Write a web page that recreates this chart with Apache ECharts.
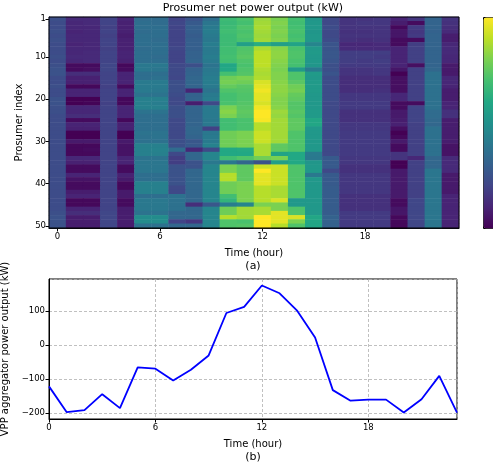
<!DOCTYPE html>
<html>
<head>
<meta charset="utf-8">
<script src="https://cdn.jsdelivr.net/npm/echarts@6/dist/echarts.min.js"></script>
<style>html,body{margin:0;padding:0;background:#fff;}#c{width:493px;height:468px;}</style>
</head>
<body>
<div id="c"></div>
<script>
const hours = [0,1,2,3,4,5,6,7,8,9,10,11,12,13,14,15,16,17,18,19,20,21,22,23];
const prosumers = [1,2,3,4,5,6,7,8,9,10,11,12,13,14,15,16,17,18,19,20,21,22,23,24,25,26,27,28,29,30,31,32,33,34,35,36,37,38,39,40,41,42,43,44,45,46,47,48,49,50];
const hourTicks = [0,6,12,18];
const prosumerTicks = [1,10,20,30,40,50];
const vppOutput = [-122,-198,-192,-145,-186,-66,-70,-105,-73,-31,94,112,175,152,100,22,-133,-164,-161,-161,-199,-160,-91,-199];
const netPower = [
[-2.6,-3.8,-3.8,-3.0,-4.0,-1.5,-1.5,-3.0,-2.4,-1.4,1.8,2.1,3.5,3.0,2.0,0.2,-2.8,-3.5,-3.5,-3.4,-4.0,-3.4,-1.8,-3.5],
[-2.7,-3.9,-3.8,-3.0,-4.1,-1.4,-1.5,-2.9,-2.2,-1.1,1.7,2.0,3.6,3.1,1.9,0.3,-2.8,-3.5,-3.4,-3.4,-4.2,-4.7,-1.8,-3.6],
[-2.7,-3.9,-3.9,-3.1,-4.1,-1.4,-1.4,-3.0,-2.0,-0.9,1.8,2.2,3.7,3.0,2.0,0.3,-2.7,-3.5,-3.5,-3.5,-4.8,-3.3,-1.8,-3.7],
[-2.6,-4.0,-3.9,-3.0,-4.1,-1.5,-1.4,-3.0,-2.0,-0.8,1.9,2.1,3.6,3.1,2.1,0.2,-2.8,-3.6,-3.6,-3.5,-4.4,-3.4,-1.9,-3.8],
[-2.7,-3.9,-3.9,-3.1,-4.2,-1.4,-1.4,-3.0,-2.1,-0.9,1.8,2.2,3.5,3.0,2.0,0.3,-2.8,-3.5,-3.5,-3.5,-4.4,-3.3,-1.8,-4.2],
[-2.6,-3.9,-3.9,-3.0,-4.1,-1.4,-1.5,-3.0,-2.0,-1.0,1.8,2.1,3.6,3.1,2.1,0.3,-2.7,-3.6,-3.7,-3.6,-4.7,-4.7,-1.8,-4.2],
[-2.7,-4.0,-3.9,-3.0,-4.1,-1.4,-1.4,-3.0,-2.0,-0.8,1.8,0.6,1.2,0.6,0.8,-0.5,-2.4,-3.9,-3.9,-3.8,-4.7,-3.2,-1.8,-3.9],
[-2.7,-3.9,-3.9,-3.1,-4.1,-1.5,-1.4,-2.9,-2.0,-0.9,1.9,2.2,3.7,3.2,2.1,0.3,-2.4,-3.8,-3.8,-3.8,-4.0,-3.1,-1.8,-3.8],
[-2.7,-3.9,-3.8,-3.0,-4.0,-1.4,-1.4,-3.0,-1.9,-0.9,1.9,2.3,4.0,3.3,2.2,0.4,-2.3,-3.2,-3.2,-3.2,-4.0,-3.1,-1.8,-3.8],
[-2.6,-3.8,-3.8,-3.0,-4.0,-1.4,-1.5,-3.0,-1.9,-0.8,2.0,2.4,4.0,3.3,2.2,0.3,-2.3,-3.2,-3.2,-3.3,-4.0,-3.1,-1.8,-3.9],
[-2.7,-3.9,-3.8,-3.0,-4.1,-1.4,-1.4,-3.0,-1.8,-0.9,1.9,2.2,4.0,3.2,2.1,0.3,-2.4,-3.2,-3.3,-3.2,-4.0,-3.1,-1.8,-3.9],
[-2.6,-4.7,-4.7,-2.9,-4.8,-1.0,-1.0,-2.8,-2.6,-1.2,0.9,2.1,4.0,3.1,2.0,0.2,-2.6,-3.3,-3.3,-3.3,-4.0,-4.6,-1.8,-4.3],
[-2.5,-4.7,-4.6,-2.9,-4.7,-1.0,-1.1,-2.8,-1.9,-1.0,1.0,2.2,3.8,3.0,0.4,-0.9,-2.6,-3.5,-3.5,-3.4,-4.4,-3.1,-1.7,-4.3],
[-2.5,-3.7,-3.7,-3.0,-4.0,-1.4,-1.4,-2.8,-1.8,-0.9,2.0,2.3,3.7,3.1,2.2,0.4,-2.4,-3.5,-3.5,-3.4,-5.0,-3.1,-1.3,-4.3],
[-2.7,-4.1,-4.1,-3.0,-4.0,-1.4,-1.3,-2.9,-1.7,-0.8,2.8,3.0,3.8,3.1,2.2,0.3,-2.7,-3.7,-3.7,-3.7,-4.6,-3.1,-1.3,-3.9],
[-2.7,-4.1,-4.1,-3.0,-4.0,-0.9,-0.9,-2.6,-1.7,-0.8,2.9,2.8,4.4,3.2,2.4,0.4,-2.7,-3.7,-3.7,-3.7,-4.6,-3.1,-1.3,-3.9],
[-2.6,-4.8,-4.8,-3.1,-4.7,-0.9,-0.9,-2.6,-1.8,-0.9,2.6,2.4,4.6,3.3,2.8,0.4,-2.7,-3.7,-3.7,-3.7,-4.6,-3.1,-1.3,-4.0],
[-2.7,-4.0,-4.0,-3.0,-4.0,-0.9,-1.0,-2.6,-4.0,-1.2,2.2,2.3,4.8,3.3,2.9,0.4,-2.7,-3.7,-3.7,-3.6,-4.6,-3.1,-1.3,-4.2],
[-2.7,-4.0,-4.0,-3.0,-4.0,-1.2,-1.2,-2.7,-1.9,-0.9,2.0,2.2,4.6,3.2,2.6,0.3,-2.7,-3.4,-3.4,-3.4,-3.9,-3.1,-1.3,-4.2],
[-2.5,-5.0,-5.0,-3.0,-4.8,-0.7,-0.7,-2.8,-1.8,-0.8,2.0,2.2,4.6,3.1,2.5,0.3,-2.7,-3.4,-3.4,-3.4,-3.9,-3.1,-1.3,-4.2],
[-2.5,-5.0,-4.9,-3.1,-4.8,-0.7,-0.8,-2.8,-4.2,-2.8,2.1,2.3,4.4,3.1,2.3,0.3,-2.8,-3.3,-3.3,-3.3,-4.7,-4.7,-1.3,-4.0],
[-2.6,-3.9,-3.9,-3.0,-4.0,-0.7,-0.7,-2.6,-1.8,-0.9,3.0,2.4,4.8,3.2,2.3,0.3,-2.8,-3.3,-3.3,-3.3,-4.7,-3.0,-1.3,-4.0],
[-2.6,-3.9,-3.9,-3.0,-4.0,-1.2,-1.2,-2.6,-1.8,-0.9,3.2,2.5,5.0,3.5,2.4,0.4,-2.8,-3.6,-3.6,-3.6,-4.3,-3.0,-1.5,-3.6],
[-2.7,-3.7,-3.7,-3.0,-4.0,-1.4,-1.4,-2.6,-1.8,-0.9,3.0,2.4,5.0,3.4,2.3,0.4,-2.8,-3.6,-3.6,-3.6,-4.3,-3.0,-1.5,-3.6],
[-2.7,-4.7,-4.7,-3.0,-4.8,-1.4,-1.4,-2.8,-1.8,-1.0,1.9,2.1,4.9,3.6,2.5,0.9,-2.8,-3.6,-3.6,-3.6,-4.2,-3.0,-1.6,-4.2],
[-2.7,-4.0,-4.0,-3.0,-4.1,-1.4,-1.4,-2.8,-1.8,-1.0,1.9,2.1,3.9,3.6,2.5,0.9,-2.8,-3.4,-3.4,-3.4,-4.1,-3.1,-1.7,-4.2],
[-2.7,-4.1,-4.1,-3.0,-4.1,-1.4,-1.4,-2.8,-1.7,-3.1,1.9,2.1,3.9,3.6,2.5,0.3,-2.8,-3.4,-3.4,-3.4,-4.6,-3.1,-1.3,-4.2],
[-2.7,-5.0,-5.0,-3.0,-5.0,-1.2,-1.2,-2.8,-1.7,-1.0,2.8,3.0,4.2,3.6,2.2,0.3,-2.8,-3.3,-3.3,-3.3,-5.0,-3.1,-1.3,-4.2],
[-2.7,-5.0,-5.0,-3.0,-5.0,-1.3,-1.2,-2.8,-1.8,-0.9,2.8,3.0,4.2,3.6,2.2,0.3,-2.8,-3.3,-3.3,-3.3,-4.8,-3.1,-1.3,-4.2],
[-2.7,-4.3,-4.3,-3.0,-4.3,-1.3,-1.3,-2.6,-2.3,-0.9,2.8,3.0,4.2,3.6,2.2,0.3,-2.8,-3.3,-3.3,-3.3,-4.3,-3.1,-1.3,-4.2],
[-2.7,-4.8,-4.8,-3.0,-4.5,-0.7,-0.7,-2.6,-2.2,-0.6,2.8,3.0,3.7,2.5,2.2,0.3,-2.8,-3.3,-3.3,-3.3,-4.7,-3.1,-1.3,-4.5],
[-2.7,-4.8,-4.7,-3.0,-4.5,-0.7,-0.6,-1.5,-3.9,-2.8,1.0,1.1,3.7,2.5,2.2,0.3,-2.8,-3.3,-3.3,-3.3,-4.7,-3.1,-1.3,-4.5],
[-2.7,-4.8,-4.8,-3.0,-4.5,-0.7,-0.7,-2.8,-1.7,-0.5,1.0,1.0,3.7,0.8,1.0,-0.9,-2.8,-3.3,-3.3,-3.3,-3.5,-3.1,-1.3,-4.5],
[-2.7,-3.9,-3.9,-3.0,-4.0,-1.2,-1.2,-3.2,-1.7,-0.5,1.9,2.2,2.8,3.0,1.0,-1.0,-2.2,-3.4,-3.4,-3.4,-3.5,-3.9,-1.7,-3.8],
[-2.7,-4.1,-4.1,-3.0,-4.0,-1.1,-1.1,-3.2,-2.5,-1.0,-1.0,-1.7,-2.5,0.6,1.0,0.2,-2.2,-3.4,-3.4,-3.4,-5.0,-3.1,-1.7,-3.8],
[-2.7,-4.7,-4.7,-3.0,-4.7,-1.1,-1.1,-2.5,-2.5,-0.5,3.0,2.5,4.2,4.2,2.2,0.3,-2.2,-3.6,-3.6,-3.6,-5.0,-3.1,-1.7,-3.8],
[-2.7,-4.7,-4.7,-3.0,-4.7,-1.1,-1.1,-2.5,-1.7,-0.5,3.0,2.5,5.0,4.2,2.2,0.3,-2.8,-3.6,-3.6,-3.6,-4.3,-3.1,-1.1,-3.8],
[-2.7,-4.0,-4.0,-3.0,-4.1,-1.4,-1.4,-2.5,-1.7,-0.5,3.9,2.5,4.6,4.2,2.2,-1.0,-2.2,-3.4,-3.4,-3.4,-4.3,-3.1,-1.1,-4.3],
[-2.7,-4.5,-4.5,-3.0,-4.3,-1.4,-1.4,-2.5,-1.7,-0.5,3.9,2.5,4.6,4.2,2.2,0.3,-2.2,-3.4,-3.4,-3.4,-4.3,-3.1,-1.1,-4.3],
[-2.7,-4.7,-4.7,-3.0,-4.8,-0.7,-0.7,-2.5,-1.7,-0.5,2.8,3.0,4.6,4.2,2.2,0.3,-2.2,-3.4,-3.4,-3.4,-4.3,-3.1,-1.1,-4.3],
[-2.7,-4.7,-4.7,-3.0,-4.8,-0.7,-0.7,-2.8,-1.7,-0.5,2.8,3.0,3.9,3.7,2.2,0.3,-2.1,-3.4,-3.4,-3.4,-4.3,-3.1,-1.1,-4.3],
[-2.7,-4.2,-4.2,-3.0,-4.3,-0.7,-0.7,-2.8,-1.7,-0.5,2.8,3.0,3.9,3.7,2.2,0.3,-2.1,-3.4,-3.4,-3.4,-4.3,-3.1,-1.1,-4.3],
[-2.7,-4.0,-4.0,-3.0,-4.3,-1.4,-1.4,-1.3,-1.7,-0.5,1.9,3.0,3.9,3.7,2.2,0.3,-2.1,-3.6,-3.6,-3.6,-4.3,-3.1,-1.1,-4.0],
[-2.7,-4.8,-4.8,-3.0,-4.7,-1.0,-1.0,-1.3,-1.7,-0.5,1.5,3.0,3.9,4.4,0.3,0.3,-2.1,-3.6,-3.6,-3.6,-4.7,-2.9,-1.1,-4.0],
[-2.7,-4.8,-4.8,-3.0,-4.7,-1.0,-1.0,-1.3,-3.7,-2.3,-0.8,-0.5,3.0,3.0,0.3,0.3,-2.1,-3.6,-3.6,-3.6,-4.7,-2.9,-1.1,-4.0],
[-2.7,-4.0,-4.0,-3.0,-4.2,-1.0,-1.0,-1.3,-1.7,-0.5,2.8,3.6,3.7,3.0,2.2,0.3,-2.1,-3.6,-3.6,-3.6,-4.4,-2.9,-1.1,-4.0],
[-2.6,-3.7,-3.7,-2.9,-4.2,-1.2,-1.2,-1.7,-1.7,-0.5,2.8,3.6,3.7,4.6,2.2,0.3,-2.1,-3.3,-3.3,-3.3,-4.4,-2.9,-1.1,-4.0],
[-2.5,-4.2,-4.2,-2.9,-4.2,-0.2,-0.2,-1.7,-1.7,-0.5,3.9,3.6,5.0,4.6,4.4,0.9,-1.9,-3.3,-3.3,-3.3,-4.8,-2.9,-1.1,-4.0],
[-2.5,-4.2,-4.2,-2.9,-4.2,-0.2,-0.2,-3.0,-3.4,-0.5,2.2,2.1,5.0,4.6,3.0,0.9,-1.9,-3.3,-3.3,-3.3,-4.8,-2.9,-1.1,-4.0],
[-2.5,-4.2,-4.2,-2.9,-4.2,-1.3,-1.3,-1.7,-1.7,-0.5,2.2,2.3,5.0,3.9,2.2,0.9,-1.9,-3.3,-3.3,-3.3,-4.8,-2.9,-1.1,-4.0]
];
const viridis = ['#440154','#482475','#414487','#355f8d','#2a788e','#21918c','#22a884','#44bf70','#7ad151','#bddf26','#fde725'];

const heatData = [];
netPower.forEach((row, r) => row.forEach((v, c) => heatData.push([c, r, v])));

const font = 'DejaVu Sans';
const minus = s => String(s).replace('-', '\u2212');
const blk = '#000';

const chart = echarts.init(document.getElementById('c'), null, {renderer: 'canvas'});
chart.setOption({
  animation: false,
  textStyle: {fontFamily: font, color: blk},
  graphic: [
    {type: 'text', x: 253, y: 3, style: {text: 'Prosumer net power output (kW)', font: '11px "DejaVu Sans"', fill: blk, textAlign: 'center'}},
    {type: 'text', x: 253, y: 261, style: {text: '(a)', font: '11px "DejaVu Sans"', fill: blk, textAlign: 'center'}},
    {type: 'text', x: 253, y: 452, style: {text: '(b)', font: '11px "DejaVu Sans"', fill: blk, textAlign: 'center'}}
  ],
  grid: [
    {left: 49, top: 17, width: 410, height: 211, show: true, borderColor: blk, borderWidth: 1, backgroundColor: 'transparent', z: 10, containLabel: false, outerBoundsMode: 'none'},
    {left: 49, top: 279, width: 408, height: 140, show: true, borderColor: blk, borderWidth: 1, backgroundColor: 'transparent', containLabel: false, outerBoundsMode: 'none'}
  ],
  visualMap: {
    type: 'continuous', seriesIndex: 0, min: -5, max: 5, calculable: false,
    orient: 'vertical', left: 483, top: 17, itemWidth: 12, itemHeight: 211,
    padding: 0, text: null, showLabel: false, hoverLink: false,
    borderColor: blk, borderWidth: 1,
    inRange: {color: viridis}
  },
  xAxis: [
    {type: 'category', gridIndex: 0, data: hours.map(String),
     axisLine: {show: true, lineStyle: {color: blk, width: 1}},
     axisTick: {show: true, alignWithLabel: true, length: 3.5, lineStyle: {color: blk},
                interval: i => hourTicks.includes(hours[i])},
     axisLabel: {fontSize: 8.5, color: blk, margin: 4, fontFamily: font,
                 interval: i => hourTicks.includes(hours[i])},
     splitLine: {show: false},
     name: 'Time (hour)', nameLocation: 'middle', nameGap: 20,
     nameTextStyle: {fontSize: 10, color: blk, fontFamily: font}},
    {type: 'value', gridIndex: 1, min: 0, max: 23, interval: 6,
     axisLine: {show: true, onZero: false, lineStyle: {color: blk, width: 1}},
     axisTick: {show: true, length: 3.5, lineStyle: {color: blk}},
     axisLabel: {fontSize: 8.5, color: blk, margin: 4, showMaxLabel: false, fontFamily: font},
     splitLine: {show: true, lineStyle: {color: '#b0b0b0', type: [3, 2], width: 0.8}},
     name: 'Time (hour)', nameLocation: 'middle', nameGap: 20,
     nameTextStyle: {fontSize: 10, color: blk, fontFamily: font}}
  ],
  yAxis: [
    {type: 'category', gridIndex: 0, inverse: true, data: prosumers.map(String),
     axisLine: {show: true, lineStyle: {color: blk, width: 1}},
     axisTick: {show: true, alignWithLabel: true, length: 3.5, lineStyle: {color: blk},
                interval: i => prosumerTicks.includes(prosumers[i])},
     axisLabel: {fontSize: 8.5, color: blk, margin: 3, fontFamily: font,
                 interval: i => prosumerTicks.includes(prosumers[i])},
     splitLine: {show: false},
     name: 'Prosumer index', nameLocation: 'middle', nameGap: 25, nameRotate: 90,
     nameTextStyle: {fontSize: 10, color: blk, fontFamily: font}},
    {type: 'value', gridIndex: 1, min: -218, max: 194,
     axisLine: {show: true, onZero: false, lineStyle: {color: blk, width: 1}},
     axisTick: {show: true, length: 3.5, lineStyle: {color: blk}},
     axisLabel: {fontSize: 8.5, color: blk, margin: 4, showMinLabel: false, showMaxLabel: false, fontFamily: font,
                 formatter: v => (Math.abs(v % 100) < 1e-9 ? minus(v) : '')},
     splitLine: {show: true, lineStyle: {color: '#b0b0b0', type: [3, 2], width: 0.8}},
     name: 'VPP aggregator power output (kW)', nameLocation: 'middle', nameGap: 29, nameRotate: 90,
     nameTextStyle: {fontSize: 10, color: blk, fontFamily: font}}
  ],
  series: [
    {type: 'heatmap', xAxisIndex: 0, yAxisIndex: 0, data: heatData, progressive: 0,
     itemStyle: {borderWidth: 0}, emphasis: {disabled: true}},
    {type: 'line', xAxisIndex: 1, yAxisIndex: 1, data: hours.map((h, i) => [h, vppOutput[i]]),
     showSymbol: false, symbol: 'none', lineStyle: {color: '#0000ff', width: 1.8}}
  ]
});
</script>
</body>
</html>
